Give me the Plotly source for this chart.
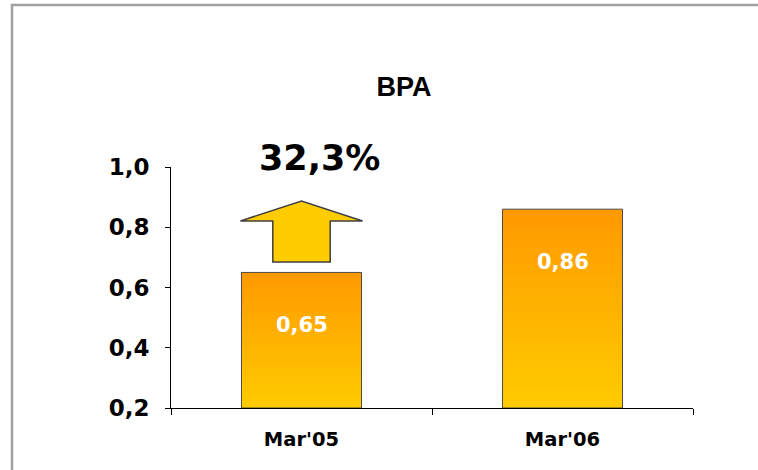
import plotly.graph_objects as go

CATEGORIES = ["Mar'05", "Mar'06"]
BPA = [0.65, 0.86]
BAR_LABELS = ["0,65", "0,86"]
Y_TICKS = [0.2, 0.4, 0.6, 0.8, 1.0]
Y_LABELS = ["0,2", "0,4", "0,6", "0,8", "1,0"]

BASE = 0.2
BAR_W = 0.46

fig = go.Figure()

# barras con degradado (naranja arriba, amarillo abajo)
for i, v in enumerate(BPA):
    x0, x1 = i - BAR_W / 2, i + BAR_W / 2
    fig.add_trace(go.Scatter(
        x=[x0, x0, x1, x1, x0], y=[BASE, v, v, BASE, BASE],
        mode="lines", fill="toself",
        fillgradient=dict(type="vertical",
                          colorscale=[[0, "#FFCC00"], [1, "#FF9900"]]),
        line=dict(color="#4a4a4a", width=1),
        hoverinfo="skip", showlegend=False,
    ))
    fig.add_annotation(
        x=i, y=v, yshift=-53, yanchor="middle", text=BAR_LABELS[i], showarrow=False,
        font=dict(family="DejaVu Sans", size=21, color="white", weight=600),
    )

# flecha de crecimiento sobre la primera barra
bot, mid, tip = BPA[0] + 0.035, 0.821, 0.887
fig.add_shape(
    type="path",
    path=(f"M -0.11,{bot} L -0.11,{mid} L -0.234,{mid} L 0,{tip} "
          f"L 0.234,{mid} L 0.11,{mid} L 0.11,{bot} Z"),
    xref="x", yref="y",
    fillcolor="#FFCC00", line=dict(color="#404040", width=1.5),
)
growth = (BPA[1] / BPA[0] - 1) * 100
fig.add_annotation(
    x=0.07, xref="x", y=1.039, yref="paper", xanchor="center", yanchor="middle",
    text=f"{growth:.1f}%".replace(".", ","), showarrow=False,
    font=dict(family="DejaVu Sans", size=35, color="black", weight="bold"),
)

# marco gris exterior
fig.add_shape(
    type="rect", xref="paper", yref="paper",
    x0=-0.3046, x1=1.2, y0=-0.4, y1=1.672,
    line=dict(color="#a0a0a0", width=2.5),
)

fig.update_layout(
    width=758, height=470,
    margin=dict(l=171, r=65, t=167, b=62),
    paper_bgcolor="white", plot_bgcolor="white",
    title=dict(text="<b>BPA</b>", x=404 / 758, xref="container", xanchor="center",
               y=1 - 87 / 470, yanchor="middle",
               font=dict(family="Liberation Sans", size=27, color="black")),
    showlegend=False,
)
fig.update_xaxes(
    range=[-0.5, 1.5], tickvals=[0, 1], ticktext=CATEGORIES,
    ticks="", ticklabelstandoff=14,
    tickfont=dict(family="DejaVu Sans", size=19.5, color="black", weight="bold"),
    minor=dict(tickvals=[-0.5, 0.5, 1.5], ticks="outside", ticklen=6,
               tickcolor="black", showgrid=False),
    showline=True, linecolor="black", linewidth=1,
    showgrid=False, zeroline=False, fixedrange=True,
)
fig.update_yaxes(
    range=[0.2, 1.0], tickvals=Y_TICKS, ticktext=Y_LABELS,
    ticks="outside", ticklen=5, tickcolor="black", ticklabelstandoff=11,
    tickfont=dict(family="DejaVu Sans", size=23, color="black", weight="bold"),
    showline=True, linecolor="black", linewidth=1,
    showgrid=False, zeroline=False, fixedrange=True,
)

# la página HTML trae 8px de margen en body; se quita para alinear
fig.write_html("out.html", config={"displayModeBar": False},
               post_script="document.body.style.margin='0';")
